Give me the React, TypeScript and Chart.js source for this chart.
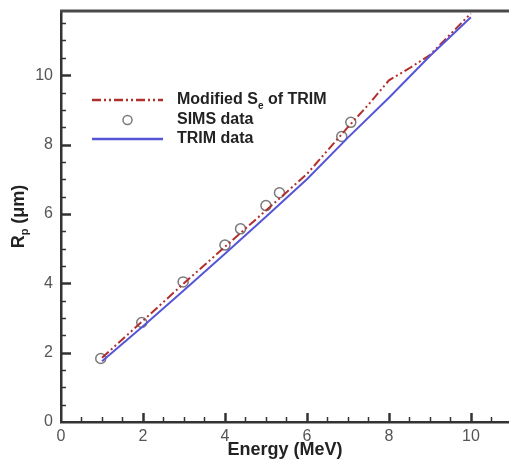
import React, { useEffect, useRef } from "react";
import { Chart, registerables } from "chart.js";

Chart.register(...registerables);

const trimX = [1, 2, 3, 4, 5, 6, 7, 8, 9, 10];
const trimY = [1.75, 2.76, 3.8, 4.85, 5.92, 7.0, 8.2, 9.35, 10.55, 11.67];

const modX = [1, 2, 3, 4, 5, 6, 7, 7.5, 8, 8.5, 9, 10];
const modY = [1.85, 2.92, 4.0, 5.05, 6.1, 7.15, 8.5, 9.15, 9.85, 10.2, 10.58, 11.78];

const simsX = [0.97, 1.97, 2.98, 4.0, 4.38, 5.0, 5.33, 6.85, 7.07];
const simsY = [1.83, 2.87, 4.04, 5.1, 5.57, 6.24, 6.61, 8.23, 8.64];

const xTicks = [0, 2, 4, 6, 8, 10];
const yTicks = [0, 2, 4, 6, 8, 10];

const legendLabels = ["Modified S", "SIMS data", "TRIM data"];

const RED = "#b0302e";
const BLUE = "#5555d8";
const GREY = "#7a7a7a";
const AXIS = "#333333";
const FONT = "'Liberation Sans', Arial, sans-serif";

const overlay = {
  id: "overlay",
  afterDraw(chart: any) {
    const ctx = chart.ctx as CanvasRenderingContext2D;
    const { left, top, right, bottom } = chart.chartArea;
    const xs = chart.scales.x;
    const ys = chart.scales.y;
    ctx.save();
    // top frame line
    ctx.strokeStyle = "#4a4a4a";
    ctx.lineWidth = 3;
    ctx.beginPath();
    ctx.moveTo(left - 1, top);
    ctx.lineTo(chart.width, top);
    ctx.stroke();

    // inward ticks
    ctx.strokeStyle = AXIS;
    for (let v = 0.5; v <= xs.max + 1e-9; v += 0.5) {
      const px = Math.round(xs.getPixelForValue(v)) + 0.5;
      const major = Math.abs(v / 2 - Math.round(v / 2)) < 1e-6;
      const len = major ? 9 : 5;
      ctx.lineWidth = major ? 2.5 : 1.5;
      ctx.beginPath();
      ctx.moveTo(px, bottom);
      ctx.lineTo(px, bottom - len);
      ctx.stroke();
    }
    for (let v = 0.5; v <= ys.max + 1e-9; v += 0.5) {
      const py = Math.round(ys.getPixelForValue(v)) + 0.5;
      const major = Math.abs(v / 2 - Math.round(v / 2)) < 1e-6;
      const len = major ? 10 : 5;
      ctx.lineWidth = major ? 2.5 : 1.5;
      ctx.beginPath();
      ctx.moveTo(left, py);
      ctx.lineTo(left + len, py);
      ctx.stroke();
    }

    // x title
    ctx.fillStyle = "#222";
    ctx.font = `bold 18px ${FONT}`;
    ctx.textAlign = "center";
    ctx.textBaseline = "middle";
    ctx.fillText("Energy (MeV)", (left + right) / 2, 450);

    // y title with subscript
    ctx.save();
    ctx.translate(18, (top + bottom) / 2);
    ctx.rotate(-Math.PI / 2);
    const bigFont = `bold 18px ${FONT}`;
    const subFont = `bold 11px ${FONT}`;
    ctx.font = bigFont;
    const wR = ctx.measureText("R").width;
    const wRest = ctx.measureText(" (\u03bcm)").width;
    ctx.font = subFont;
    const wP = ctx.measureText("p").width;
    const total = wR + wP + wRest;
    let cx = -total / 2;
    ctx.textAlign = "left";
    ctx.textBaseline = "alphabetic";
    ctx.font = bigFont;
    ctx.fillText("R", cx, 6);
    cx += wR;
    ctx.font = subFont;
    ctx.fillText("p", cx, 10);
    cx += wP;
    ctx.font = bigFont;
    ctx.fillText(" (\u03bcm)", cx, 6);
    ctx.restore();

    // legend
    const lx0 = 92;
    const lx1 = 163;
    const tx = 177;
    const rows = [100, 120, 139];
    ctx.lineWidth = 2.5;
    ctx.strokeStyle = RED;
    ctx.setLineDash([9, 3, 2, 3, 2, 3]);
    ctx.beginPath();
    ctx.moveTo(lx0, rows[0]);
    ctx.lineTo(lx1, rows[0]);
    ctx.stroke();
    ctx.setLineDash([]);
    ctx.strokeStyle = GREY;
    ctx.lineWidth = 1.5;
    ctx.beginPath();
    ctx.arc((lx0 + lx1) / 2, rows[1], 4.5, 0, Math.PI * 2);
    ctx.stroke();
    ctx.strokeStyle = BLUE;
    ctx.lineWidth = 2.5;
    ctx.beginPath();
    ctx.moveTo(lx0, rows[2]);
    ctx.lineTo(lx1, rows[2]);
    ctx.stroke();

    ctx.fillStyle = "#222";
    ctx.textAlign = "left";
    ctx.textBaseline = "middle";
    const lf = `bold 16px ${FONT}`;
    const lsf = `bold 10px ${FONT}`;
    ctx.font = lf;
    ctx.fillText(legendLabels[0], tx, rows[0]);
    let w = ctx.measureText(legendLabels[0]).width;
    ctx.font = lsf;
    ctx.fillText("e", tx + w, rows[0] + 6);
    w += ctx.measureText("e").width;
    ctx.font = lf;
    ctx.fillText(" of TRIM", tx + w, rows[0]);
    ctx.fillText(legendLabels[1], tx, rows[1]);
    ctx.fillText(legendLabels[2], tx, rows[2]);
    ctx.restore();
  },
};

export default function App() {
  const ref = useRef<HTMLCanvasElement | null>(null);
  useEffect(() => {
    document.body.style.margin = "0";
    const canvas = ref.current;
    if (!canvas) return;
    const keepTicks = (vals: number[]) => (scale: any) => {
      scale.ticks = vals.map((v) => ({ value: v }));
    };
    const zeroPad = (s: any) => {
      s.paddingTop = 0;
      s.paddingBottom = 0;
      s.paddingLeft = 0;
      s.paddingRight = 0;
    };
    const chart = new Chart(canvas, {
      type: "line",
      data: {
        datasets: [
          {
            label: "TRIM data",
            data: trimX.map((x, i) => ({ x, y: trimY[i] })),
            borderColor: BLUE,
            borderWidth: 2,
            pointRadius: 0,
            tension: 0,
            fill: false,
          },
          {
            label: "Modified Se of TRIM",
            data: modX.map((x, i) => ({ x, y: modY[i] })),
            borderColor: RED,
            borderWidth: 2,
            borderDash: [9, 3, 2, 3, 2, 3],
            pointRadius: 0,
            tension: 0,
            fill: false,
          },
          {
            label: "SIMS data",
            data: simsX.map((x, i) => ({ x, y: simsY[i] })),
            showLine: false,
            borderColor: GREY,
            backgroundColor: "rgba(0,0,0,0)",
            pointRadius: 5,
            pointBorderWidth: 1.5,
            pointBorderColor: GREY,
            pointBackgroundColor: "rgba(0,0,0,0)",
          },
        ],
      },
      options: {
        animation: false,
        responsive: false,
        maintainAspectRatio: false,
        layout: { autoPadding: false, padding: { left: 0, top: 11, right: 0, bottom: 0 } },
        plugins: {
          legend: { display: false },
          tooltip: { enabled: false },
          title: { display: false },
        },
        scales: {
          x: {
            type: "linear",
            min: 0,
            max: 10.93,
            afterBuildTicks: keepTicks(xTicks),
            afterFit: (s: any) => {
              s.height = 44;
              zeroPad(s);
            },
            grid: { display: false, drawTicks: false },
            border: { display: true, color: AXIS, width: 2.5 },
            ticks: {
              padding: 5,
              color: "#555",
              font: { family: FONT, size: 16 },
              maxRotation: 0,
            },
          },
          y: {
            type: "linear",
            min: 0,
            max: 11.85,
            afterBuildTicks: keepTicks(yTicks),
            afterFit: (s: any) => {
              s.width = 61;
              zeroPad(s);
            },
            grid: { display: false, drawTicks: false },
            border: { display: true, color: AXIS, width: 2.5 },
            ticks: {
              padding: 8,
              color: "#555",
              font: { family: FONT, size: 16 },
            },
          },
        },
      },
      plugins: [overlay],
    });
    return () => chart.destroy();
  }, []);
  return (
    <div style={{ position: "absolute", left: 0, top: 0, width: 509, height: 466 }}>
      <canvas
        ref={ref}
        width={509}
        height={466}
        style={{ width: 509, height: 466, display: "block" }}
      />
    </div>
  );
}
